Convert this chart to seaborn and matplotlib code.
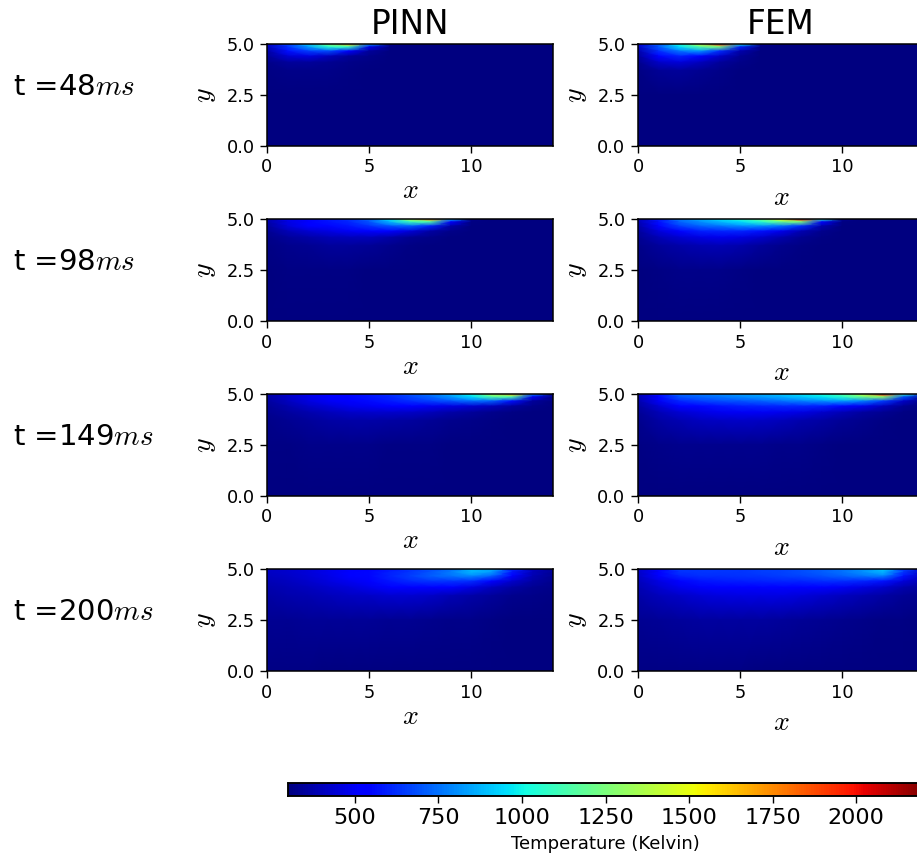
import numpy as np
import matplotlib
matplotlib.use('Agg')
import matplotlib.pyplot as plt
import seaborn as sns

# Temperature, one row per depth below the top edge, one column per x = 0..14
x_ticks = [0, 5, 10]
y_tick_labels = ['5.0', '2.5', '0.0']
depths = [0, 0.15, 0.35, 0.6, 0.9, 1.3, 2.5, 5.0]
times = [48, 98, 149, 200]
cbar_ticks = [500, 750, 1000, 1250, 1500, 1750, 2000]

pinn_48 = [
    [420, 650, 900, 1250, 1650, 850, 320, 305, 302, 300, 300, 300, 300, 300, 300],
    [400, 620, 820, 1050, 1100, 480, 310, 303, 301, 300, 300, 300, 300, 300, 300],
    [360, 560, 650, 680, 520, 350, 305, 302, 300, 300, 300, 300, 300, 300, 300],
    [340, 440, 460, 400, 340, 315, 303, 301, 300, 300, 300, 300, 300, 300, 300],
    [320, 345, 350, 335, 320, 310, 302, 300, 300, 300, 300, 300, 300, 300, 300],
    [310, 315, 318, 315, 310, 305, 301, 300, 300, 300, 300, 300, 300, 300, 300],
    [302, 302, 302, 302, 301, 301, 300, 300, 300, 300, 300, 300, 300, 300, 300],
    [300, 300, 300, 300, 300, 300, 300, 300, 300, 300, 300, 300, 300, 300, 300],
]
fem_48 = [
    [450, 700, 1000, 1400, 1950, 1000, 330, 305, 300, 300, 300, 300, 300, 300, 300],
    [420, 700, 950, 1150, 1250, 600, 310, 302, 300, 300, 300, 300, 300, 300, 300],
    [380, 620, 760, 820, 620, 380, 305, 301, 300, 300, 300, 300, 300, 300, 300],
    [350, 530, 600, 540, 420, 330, 303, 300, 300, 300, 300, 300, 300, 300, 300],
    [325, 420, 450, 410, 350, 315, 302, 300, 300, 300, 300, 300, 300, 300, 300],
    [310, 340, 350, 335, 320, 305, 301, 300, 300, 300, 300, 300, 300, 300, 300],
    [302, 303, 303, 302, 301, 300, 300, 300, 300, 300, 300, 300, 300, 300, 300],
    [300, 300, 300, 300, 300, 300, 300, 300, 300, 300, 300, 300, 300, 300, 300],
]
pinn_98 = [
    [380, 480, 540, 580, 620, 720, 950, 1350, 1750, 900, 320, 305, 302, 300, 300],
    [370, 470, 530, 570, 610, 700, 880, 1100, 1150, 520, 310, 303, 301, 300, 300],
    [350, 450, 510, 545, 580, 630, 700, 720, 600, 370, 305, 302, 300, 300, 300],
    [330, 395, 440, 470, 500, 520, 510, 450, 360, 320, 303, 301, 300, 300, 300],
    [320, 350, 370, 390, 400, 400, 370, 335, 315, 305, 302, 300, 300, 300, 300],
    [312, 325, 335, 345, 345, 340, 325, 312, 306, 302, 300, 300, 300, 300, 300],
    [305, 308, 310, 310, 308, 305, 303, 302, 300, 300, 300, 300, 300, 300, 300],
    [302, 302, 302, 301, 300, 300, 300, 300, 300, 300, 300, 300, 300, 300, 300],
]
fem_98 = [
    [400, 580, 760, 850, 950, 1050, 1200, 1500, 2000, 1050, 330, 305, 300, 300, 300],
    [390, 560, 720, 800, 880, 950, 1050, 1200, 1250, 550, 310, 303, 300, 300, 300],
    [370, 520, 650, 720, 760, 800, 800, 750, 620, 380, 305, 302, 300, 300, 300],
    [345, 450, 540, 590, 610, 610, 570, 480, 385, 325, 303, 301, 300, 300, 300],
    [330, 390, 440, 470, 480, 470, 430, 375, 335, 310, 302, 300, 300, 300, 300],
    [318, 345, 370, 385, 390, 380, 350, 325, 310, 304, 301, 300, 300, 300, 300],
    [305, 310, 315, 318, 316, 312, 307, 304, 302, 300, 300, 300, 300, 300, 300],
    [302, 302, 302, 302, 301, 301, 300, 300, 300, 300, 300, 300, 300, 300, 300],
]
pinn_149 = [
    [370, 430, 480, 520, 550, 580, 620, 680, 750, 850, 1000, 1350, 1650, 800, 320],
    [365, 425, 475, 515, 545, 575, 610, 665, 730, 820, 950, 1150, 1150, 500, 308],
    [355, 410, 460, 500, 530, 555, 585, 620, 660, 700, 740, 720, 560, 350, 303],
    [340, 380, 420, 455, 480, 500, 510, 510, 490, 470, 440, 400, 350, 315, 302],
    [330, 355, 380, 400, 420, 430, 430, 420, 400, 370, 345, 325, 310, 303, 300],
    [322, 335, 350, 360, 370, 370, 365, 355, 340, 325, 315, 308, 303, 300, 300],
    [310, 313, 316, 318, 318, 316, 314, 311, 308, 305, 303, 302, 300, 300, 300],
    [303, 303, 303, 303, 303, 302, 302, 301, 301, 300, 300, 300, 300, 300, 300],
]
fem_149 = [
    [390, 560, 720, 760, 790, 820, 850, 900, 950, 1020, 1150, 1400, 2000, 1100, 600],
    [385, 540, 690, 730, 760, 790, 820, 860, 910, 970, 1060, 1220, 1300, 700, 330],
    [375, 500, 610, 650, 680, 700, 720, 750, 780, 810, 830, 780, 650, 420, 310],
    [355, 440, 510, 550, 570, 590, 600, 610, 610, 590, 550, 480, 400, 330, 305],
    [340, 395, 440, 470, 490, 495, 495, 485, 465, 430, 390, 355, 330, 312, 303],
    [328, 360, 385, 405, 415, 420, 415, 400, 380, 360, 340, 325, 312, 305, 301],
    [312, 318, 323, 326, 328, 327, 324, 320, 315, 310, 306, 303, 301, 300, 300],
    [304, 304, 304, 304, 304, 303, 303, 302, 302, 301, 300, 300, 300, 300, 300],
]
pinn_200 = [
    [420, 430, 450, 480, 510, 540, 580, 630, 680, 740, 870, 850, 600, 400, 340],
    [415, 430, 450, 480, 510, 545, 590, 640, 700, 770, 880, 830, 580, 400, 340],
    [405, 425, 445, 475, 510, 550, 600, 650, 710, 760, 790, 720, 520, 385, 335],
    [390, 410, 430, 460, 490, 530, 575, 615, 640, 640, 620, 540, 430, 360, 325],
    [375, 395, 410, 430, 455, 480, 510, 530, 530, 510, 470, 410, 365, 335, 315],
    [360, 375, 385, 400, 415, 425, 435, 435, 420, 395, 370, 345, 325, 315, 308],
    [330, 335, 340, 342, 342, 340, 336, 330, 325, 320, 315, 310, 306, 304, 302],
    [308, 308, 308, 307, 306, 305, 304, 303, 303, 302, 301, 301, 300, 300, 300],
]
fem_200 = [
    [430, 530, 640, 640, 640, 640, 650, 660, 680, 710, 750, 810, 900, 650, 430],
    [425, 525, 630, 635, 635, 640, 650, 660, 680, 710, 750, 810, 880, 640, 425],
    [415, 510, 600, 620, 625, 630, 640, 650, 665, 690, 720, 760, 780, 570, 410],
    [400, 470, 540, 570, 585, 595, 600, 605, 610, 620, 620, 610, 570, 450, 380],
    [385, 435, 480, 505, 525, 535, 540, 540, 530, 525, 500, 470, 430, 380, 350],
    [370, 400, 425, 445, 460, 470, 470, 465, 450, 430, 405, 385, 360, 340, 325],
    [335, 342, 350, 355, 357, 357, 353, 347, 340, 333, 326, 320, 314, 310, 306],
    [310, 310, 310, 310, 309, 308, 307, 306, 305, 304, 303, 302, 301, 301, 300],
]

pinn_rows = [pinn_48, pinn_98, pinn_149, pinn_200]
fem_rows = [fem_48, fem_98, fem_149, fem_200]

sns.set_style('ticks', {'text.color': 'black', 'axes.labelcolor': 'black', 'axes.edgecolor': 'black',
                        'xtick.color': 'black', 'ytick.color': 'black'})
plt.rcParams['font.family'] = ['DejaVu Sans']
plt.rcParams['mathtext.fontset'] = 'cm'

W, H = 917, 859
fig = plt.figure(figsize=(W / 100, H / 100), dpi=100)
rows_idx = np.arange(len(depths))


def axes_at(left, top, width, height):
    # pixel box -> figure fractions, may run past the right edge like the original
    return fig.add_axes([left / W, 1 - (top + height) / H, width / W, height / H])


def draw_panel(ax, values, title, labelpad, cbar_ax=None):
    sns.heatmap(np.array(values, dtype=float), ax=ax, cmap='jet', vmin=300, vmax=2200,
                xticklabels=False, yticklabels=False, shading='gouraud',
                cbar=cbar_ax is not None, cbar_ax=cbar_ax,
                cbar_kws={'orientation': 'horizontal'})
    # rows are not evenly spaced in depth
    ax.set_yscale('function', functions=(lambda i: np.interp(i, rows_idx, depths),
                                         lambda d: np.interp(d, depths, rows_idx)))
    ax.set_xlim(0, 14)
    ax.set_ylim(rows_idx[-1], 0)
    ax.set_xticks(x_ticks, [str(t) for t in x_ticks])
    ax.set_yticks([0, 6, 7], y_tick_labels)
    ax.minorticks_off()
    ax.tick_params(labelsize=12.8, length=5, width=1, pad=4)
    for spine in ax.spines.values():
        spine.set_visible(True)
        spine.set_linewidth(1.1)
        spine.set_color('black')
    ax.set_xlabel('$x$', fontsize=20, labelpad=labelpad)
    ax.set_ylabel('$y$', fontsize=20, labelpad=6)
    if title:
        ax.set_title(title, fontsize=23.5, pad=7)


tops = [44, 219, 394, 569]
cax = axes_at(288, 783, 635, 13)
for i, t in enumerate(times):
    left_ax = axes_at(267, tops[i], 286, 102)
    right_ax = axes_at(638, tops[i], 286, 102)
    draw_panel(left_ax, pinn_rows[i], 'PINN' if i == 0 else None, 0)
    draw_panel(right_ax, fem_rows[i], 'FEM' if i == 0 else None, 4.5,
               cbar_ax=cax if i == len(times) - 1 else None)
    fig.text(13 / W, 1 - (tops[i] + 43) / H, f't ={t}$ms$', fontsize=21, va='center', ha='left')

cax.set_xticks(cbar_ticks, [str(t) for t in cbar_ticks])
cax.tick_params(labelsize=16, length=5, width=1, pad=4)
cax.set_xlabel('Temperature (Kelvin)', fontsize=13.1, labelpad=5)
for spine in cax.spines.values():
    spine.set_visible(True)
    spine.set_linewidth(1.1)
    spine.set_color('black')

fig.savefig('out.png', dpi=100)
